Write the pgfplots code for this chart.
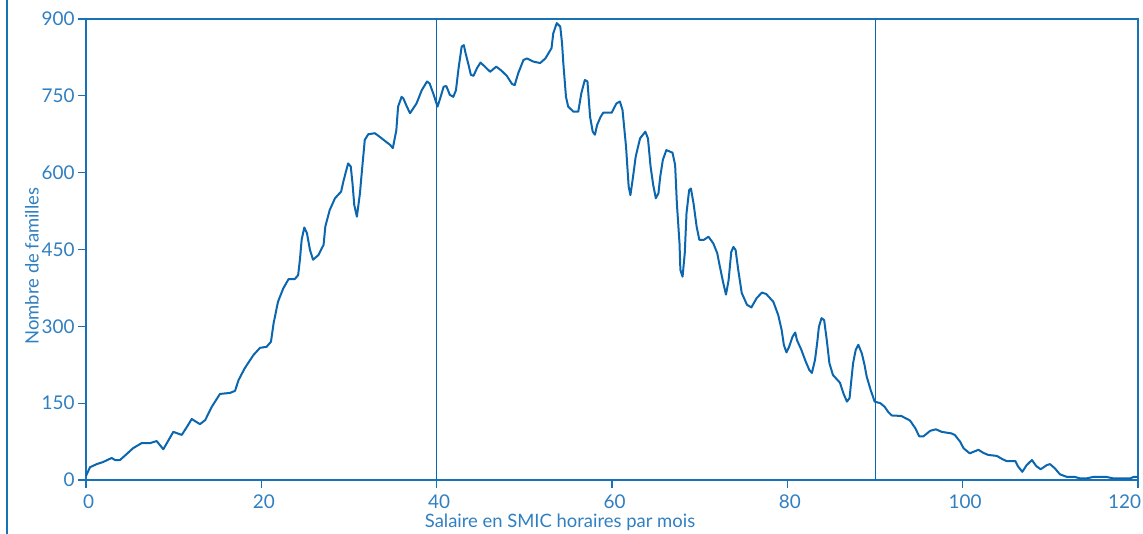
\documentclass[border=0pt]{standalone}
\usepackage{fontspec}
\setmainfont{Lato}
\usepackage{pgfplots}
\pgfplotsset{compat=1.18}
\definecolor{lineblue}{HTML}{0A66AE}
\definecolor{txtblue}{HTML}{2F7FC1}
\definecolor{axblue}{HTML}{1872B8}
\begin{document}
\begin{tikzpicture}[x=1bp,y=1bp]
\path[use as bounding box] (0,0) rectangle (1143,534);
\draw[axblue, line width=1.5bp] (7,0) -- (7,534);
\begin{axis}[
  at={(86bp,54bp)}, anchor=south west,
  scale only axis, width=1052bp, height=461bp,
  xmin=0, xmax=120, ymin=0, ymax=900,
  xtick={0,20,...,100}, ytick={0,150,...,900},
  extra x ticks={120},
  extra x tick style={xticklabel style={anchor=north east, xshift=4bp}},
  xtick pos=lower, ytick pos=left,
  axis line style={axblue, line width=1.5bp},
  tick style={axblue, line width=1.2bp},
  tick align=outside, major tick length=8bp,
  ticklabel style={font=\fontsize{19}{19}\selectfont, text=txtblue},
  xticklabel style={xshift=2.5bp, yshift=-3bp},
  /pgf/number format/assume math mode=true,
  xlabel={Salaire en SMIC horaires par mois},
  ylabel={Nombre de familles},
  label style={font=\fontsize{18.5}{18.5}\selectfont, text=txtblue},
  xlabel style={at={(axis description cs:0.4506,-0.0925)}, anchor=center},
  ylabel style={at={(axis description cs:-0.0513,0.464)}, anchor=center},
  clip=false,
]
\addplot[lineblue, line width=0.9bp, forget plot] coordinates {(40,0) (40,900)};
\addplot[lineblue, line width=0.9bp, forget plot] coordinates {(90,0) (90,900)};
\addplot[lineblue, line width=2bp, line join=round] coordinates {
(0,8) (0.46,25) (1.22,31) (1.94,35) (2.93,43) (3.31,39) (3.88,39) (4.79,53) (5.36,62) (6.35,72)
(7.30,72) (8.06,76) (8.82,60) (9.96,94) (10.92,88) (11.49,103) (12.06,119) (13.0,109) (13.6,117) (14.35,143)
(15.28,168) (16.43,170) (17.0,174) (17.4,195) (18.1,218) (19.1,244) (19.85,258) (20.6,260) (21.1,270) (21.4,306)
(21.9,348) (22.5,374) (23.1,392) (23.8,392) (24.2,400) (24.4,430) (24.6,469) (24.9,493) (25.2,482) (25.55,449)
(25.9,430) (26.5,439) (27.1,459) (27.3,495) (27.8,527) (28.4,550) (29.1,563) (29.35,582) (29.6,599) (29.9,618)
(30.2,612) (30.4,579) (30.6,537) (30.9,514) (31.25,560) (31.45,599) (31.8,664) (32.2,675) (32.95,677) (33.5,670)
(34.7,654) (35.0,648) (35.4,683) (35.6,729) (36.0,748) (36.2,745) (36.6,729) (36.96,716) (37.7,735) (38.3,761)
(38.9,778) (39.2,774) (39.6,755) (40.1,729) (40.4,745) (40.8,768) (41.1,769) (41.5,752) (41.9,748) (42.2,761)
(42.5,804) (42.85,846) (43.1,849) (43.3,833) (43.6,813) (43.9,791) (44.2,789) (44.6,804) (45.0,815) (45.5,807)
(46.1,797) (46.8,807) (47.4,799) (48.0,789) (48.6,773) (48.9,771) (49.3,794) (49.9,820) (50.3,823) (51.0,817)
(51.8,814) (52.4,823) (53.1,843) (53.3,872) (53.7,892) (54.1,885) (54.3,853) (54.45,813) (54.75,748) (55.0,729)
(55.6,719) (56.15,719) (56.5,755) (56.9,781) (57.2,778) (57.5,709) (57.8,680) (58.05,674) (58.3,693) (58.7,709)
(59.0,717) (59.96,717) (60.5,735) (60.9,739) (61.2,722) (61.6,651) (61.9,573) (62.1,556) (62.4,592) (62.7,631)
(63.2,667) (63.8,680) (64.1,667) (64.4,612) (64.7,576) (65.0,550) (65.3,560) (65.5,592) (65.8,625) (66.2,644)
(66.9,639) (67.2,615) (67.4,540) (67.7,462) (67.8,410) (68.05,397) (68.3,443) (68.5,521) (68.8,566) (69.0,569)
(69.3,540) (69.65,495) (69.96,469) (70.5,469) (71.0,475) (71.55,462) (72.0,443) (72.3,417) (72.7,384) (73.0,362)
(73.3,390) (73.6,445) (73.85,455) (74.1,449) (74.4,410) (74.8,365) (75.4,342) (75.9,337) (76.5,355) (77.1,366)
(77.6,363) (78.4,348) (78.96,322) (79.35,293) (79.6,264) (79.9,249) (80.2,260) (80.6,280) (80.9,288) (81.1,273)
(81.6,254) (82.1,231) (82.5,215) (82.8,209) (83.15,234) (83.4,267) (83.6,299) (83.9,316) (84.2,312) (84.5,273)
(84.8,228) (85.2,205) (86.0,190) (86.4,169) (86.8,153) (87.1,160) (87.3,195) (87.5,228) (87.8,254) (88.1,264)
(88.5,247) (88.8,225) (89.05,202) (89.5,176) (89.96,153) (90.6,150) (91.1,143) (91.5,133) (91.9,126) (93.0,125)
(94.0,116) (94.6,101) (95.05,85) (95.5,85) (96.3,96) (96.95,99) (97.6,94) (98.7,91) (99.1,88) (99.7,75)
(100.1,62) (100.8,52) (101.8,59) (102.35,53) (102.9,49) (103.9,47) (104.5,41) (105.0,37) (106.0,37) (106.3,27)
(106.8,16) (107.3,29) (107.9,39) (108.4,27) (108.9,21) (109.6,29) (109.96,31) (110.5,23) (111.1,11) (111.9,6)
(112.8,6) (113.4,3) (114.1,3) (114.9,6) (116.4,6) (117.2,3) (119.1,3) (119.5,6) (120,6)
};
\end{axis}
\end{tikzpicture}
\end{document}
